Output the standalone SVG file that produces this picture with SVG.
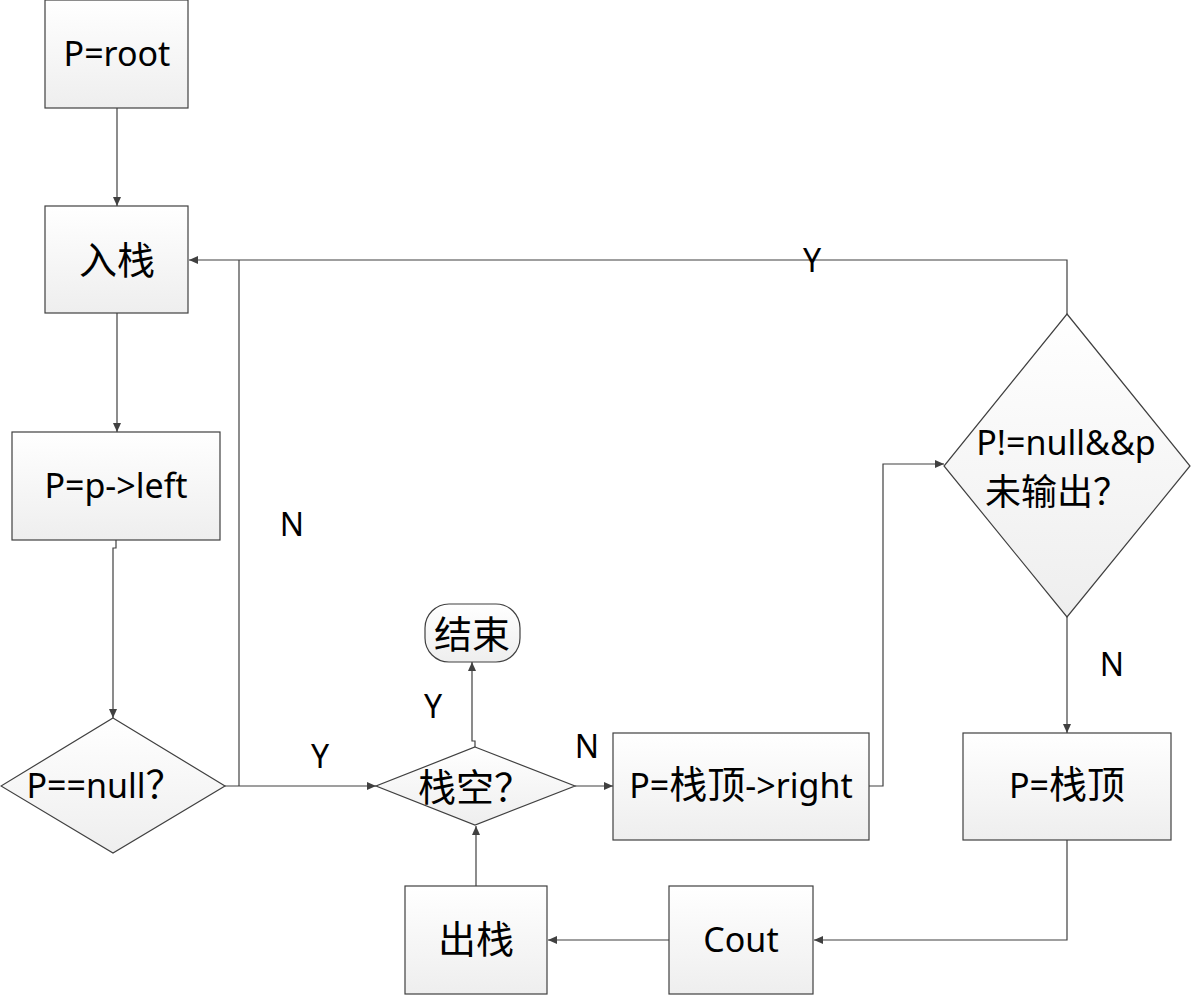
<svg xmlns="http://www.w3.org/2000/svg" width="1193" height="997" viewBox="0 0 1193 997">
<style>
.node{fill:url(#g);stroke:#404040;stroke-width:1.2}
.conn{fill:none;stroke:#404040;stroke-width:1.2}
.arr{marker-end:url(#ah)}
text{font-family:"Noto Sans","Noto Sans CJK SC",sans-serif;font-size:34px;fill:#000;text-anchor:middle}
.cjk{font-family:"Noto Sans CJK SC",sans-serif;font-size:38px}
.lbl{font-size:32px}
</style>
<defs>
<linearGradient id="g" x1="0" y1="0" x2="0" y2="1">
<stop offset="0" stop-color="#ffffff"/>
<stop offset="1" stop-color="#eeeeee"/>
</linearGradient>
<marker id="ah" markerUnits="userSpaceOnUse" markerWidth="10" markerHeight="8" refX="9" refY="4" orient="auto">
<path d="M0,0 L9,4 L0,8 z" fill="#404040"/>
</marker>
</defs>
<rect width="1193" height="997" fill="#ffffff"/>
<g id="connectors">
<path class="conn arr" d="M117,108 V206"/>
<path class="conn arr" d="M117,313 V432"/>
<path class="conn arr" d="M116,540 V548 H113 V718"/>
<path class="conn arr" d="M225,786 H376"/>
<path class="conn" d="M239,786 V260"/>
<path class="conn arr" d="M1067,314 V260 H189"/>
<path class="conn arr" d="M475,747 V741 H472 V662"/>
<path class="conn arr" d="M575,786 H613"/>
<path class="conn arr" d="M869,786 H883 V464 H944"/>
<path class="conn arr" d="M1067,617 V733"/>
<path class="conn arr" d="M1067,840 V940 H814"/>
<path class="conn arr" d="M669,940 H548"/>
<path class="conn arr" d="M476,886 V826"/>
<text class="lbl" x="812" y="272">Y</text>
<text class="lbl" x="292" y="536">N</text>
<text class="lbl" x="320" y="768">Y</text>
<text class="lbl" x="433" y="718">Y</text>
<text class="lbl" x="587" y="758">N</text>
<text class="lbl" x="1112" y="676">N</text>
</g>
<g id="root"><rect class="node" x="45" y="0" width="143" height="108"/><text x="117" y="66">P=root</text></g>
<g id="push"><rect class="node" x="45" y="206" width="143" height="107"/><text class="cjk" x="117" y="274">入栈</text></g>
<g id="left"><rect class="node" x="12" y="432" width="208" height="108"/><text x="116" y="498">P=p-&gt;left</text></g>
<g id="isnull"><polygon class="node" points="113,718 225,786 113,853 1,786"/><text x="105" y="798">P==null<tspan class="cjk">？</tspan></text></g>
<g id="empty"><polygon class="node" points="475,747 575,786 475,825 376,786"/><text class="cjk" x="475" y="801">栈空？</text></g>
<g id="end"><rect class="node" x="425" y="604" width="95" height="58" rx="24" ry="24"/><text class="cjk" x="472" y="648">结束</text></g>
<g id="right"><rect class="node" x="613" y="733" width="256" height="107"/><text x="741" y="798">P=<tspan class="cjk">栈顶</tspan>-&gt;right</text></g>
<g id="check"><polygon class="node" points="1067,314 1190,466 1067,617 944,466"/><text x="1066" y="455">P!=null&amp;&amp;p</text><text class="cjk" x="1057" y="505" style="font-size:36px">未输出？</text></g>
<g id="top"><rect class="node" x="963" y="733" width="208" height="107"/><text x="1067" y="798">P=<tspan class="cjk">栈顶</tspan></text></g>
<g id="cout"><rect class="node" x="669" y="886" width="144" height="108"/><text x="741" y="952">Cout</text></g>
<g id="pop"><rect class="node" x="405" y="886" width="142" height="108"/><text class="cjk" x="476" y="953">出栈</text></g>
</svg>
